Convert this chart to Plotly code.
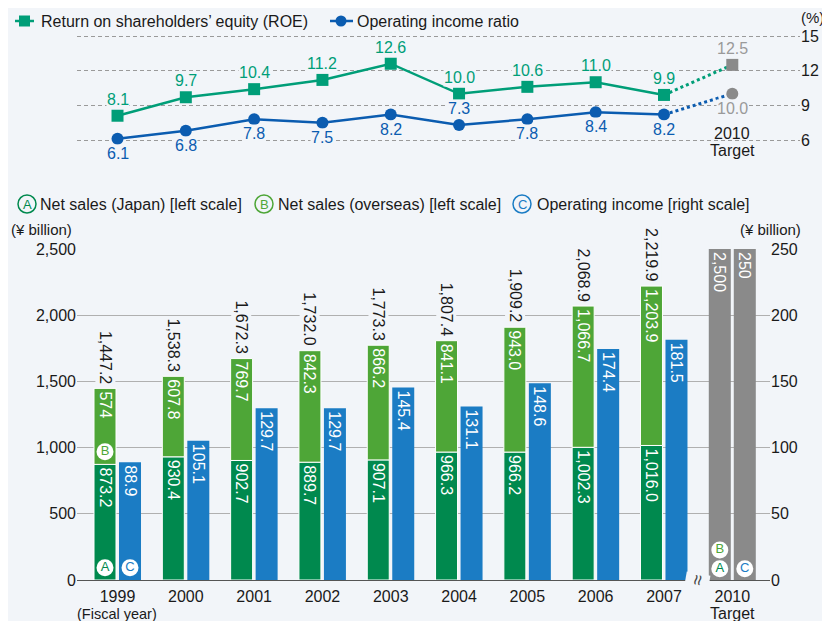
import plotly.graph_objects as go

# ---------------- data ----------------
years = ["1999", "2000", "2001", "2002", "2003", "2004", "2005", "2006", "2007"]
target_year = "2010"
roe = [8.1, 9.7, 10.4, 11.2, 12.6, 10.0, 10.6, 11.0, 9.9]
roe_target = 12.5
oi_ratio = [6.1, 6.8, 7.8, 7.5, 8.2, 7.3, 7.8, 8.4, 8.2]
oi_ratio_target = 10.0
sales_japan = [873.2, 930.4, 902.7, 889.7, 907.1, 966.3, 966.2, 1002.3, 1016.0]
sales_overseas = [574, 607.8, 769.7, 842.3, 866.2, 841.1, 943.0, 1066.7, 1203.9]
sales_total = [1447.2, 1538.3, 1672.3, 1732.0, 1773.3, 1807.4, 1909.2, 2068.9, 2219.9]
op_income = [88.9, 105.1, 129.7, 129.7, 145.4, 131.1, 148.6, 174.4, 181.5]
sales_target = 2500
op_income_target = 250
left_ticks = [0, 500, 1000, 1500, 2000, 2500]
right_ticks = [0, 50, 100, 150, 200, 250]
pct_ticks = [6, 9, 12, 15]

# ---------------- style ----------------
SHIFT = 8            # page body margin offset
W, H = 830 - SHIFT, 621 - SHIFT
BG = "#f2f5f9"
FONT = "Liberation Sans, Arial, Helvetica, sans-serif"
C_JP = "#00894e"
C_OV = "#4ea637"
C_OI = "#1b7cc4"
C_GRAY = "#8a8a8a"
C_ROE = "#009e78"
C_OIR = "#0b5cb0"
C_TXT = "#1a1a1a"


def fmt(v):
    return f"{v:,}" if isinstance(v, int) else f"{v:,.1f}"


def px(x):
    return (x - SHIFT) / W


def py(y):
    return 1 - (y - SHIFT) / H


xs = list(range(len(years)))
xt = len(years)  # target position
BW = 0.322
OFF_L = -0.344
OFF_R = 0.022
CL = OFF_L + BW / 2
CR = OFF_R + BW / 2

fig = go.Figure()

# ---------------- bars ----------------
bar_text = dict(textposition="inside", insidetextanchor="end", textangle=90,
                constraintext="none", textfont=dict(color="white", size=16, family=FONT),
                hoverinfo="skip", showlegend=False)

fig.add_trace(go.Bar(x=xs, y=sales_japan, offset=OFF_L, width=BW,
                     marker=dict(color=C_JP, line=dict(color="white", width=1)),
                     text=[fmt(v) for v in sales_japan], xaxis="x", yaxis="y", **bar_text))
fig.add_trace(go.Bar(x=xs, y=sales_overseas, base=sales_japan, offset=OFF_L, width=BW,
                     marker=dict(color=C_OV, line=dict(color="white", width=1)),
                     text=[fmt(v) for v in sales_overseas], xaxis="x", yaxis="y", **bar_text))
fig.add_trace(go.Bar(x=[xt], y=[sales_target], offset=OFF_L, width=BW,
                     marker=dict(color=C_GRAY, line=dict(width=0)),
                     text=[fmt(sales_target)], xaxis="x", yaxis="y", **bar_text))
fig.add_trace(go.Bar(x=xs, y=op_income, offset=OFF_R, width=BW,
                     marker=dict(color=C_OI, line=dict(width=0)),
                     text=[fmt(v) for v in op_income], xaxis="x", yaxis="y2", **bar_text))
fig.add_trace(go.Bar(x=[xt], y=[op_income_target], offset=OFF_R, width=BW,
                     marker=dict(color=C_GRAY, line=dict(width=0)),
                     text=[fmt(op_income_target)], xaxis="x", yaxis="y2", **bar_text))

# circled letters inside bars
fig.add_trace(go.Scatter(
    x=[xs[0] + CL, xs[0] + CL, xt + CL, xt + CL],
    y=[92, sales_japan[0] + 95, 85, 227],
    mode="markers+text", text=["A", "B", "A", "B"], textposition="middle center",
    marker=dict(symbol="circle", size=17, color="white"),
    textfont=dict(size=13, family=FONT, color=[C_JP, C_OV, C_JP, C_OV]),
    xaxis="x", yaxis="y", showlegend=False, hoverinfo="skip"))
fig.add_trace(go.Scatter(
    x=[xs[0] + CR, xt + CR], y=[9.2, 8.5],
    mode="markers+text", text=["C", "C"], textposition="middle center",
    marker=dict(symbol="circle", size=17, color="white"),
    textfont=dict(size=13, family=FONT, color=C_OI),
    xaxis="x", yaxis="y2", showlegend=False, hoverinfo="skip"))

# ---------------- top lines ----------------
line_common = dict(xaxis="x2", yaxis="y3", showlegend=False, hoverinfo="skip", cliponaxis=False)
fig.add_trace(go.Scatter(x=[xs[-1], xt], y=[roe[-1], roe_target], mode="lines",
                         line=dict(color=C_ROE, width=3, dash="dot"), **line_common))
fig.add_trace(go.Scatter(x=[xs[-1], xt], y=[oi_ratio[-1], oi_ratio_target], mode="lines",
                         line=dict(color=C_OIR, width=3, dash="dot"), **line_common))
fig.add_trace(go.Scatter(x=xs, y=roe, mode="lines+markers",
                         line=dict(color=C_ROE, width=2.5),
                         marker=dict(symbol="square", size=12, color=C_ROE), **line_common))
fig.add_trace(go.Scatter(x=xs, y=oi_ratio, mode="lines+markers",
                         line=dict(color=C_OIR, width=2.5),
                         marker=dict(symbol="circle", size=12, color=C_OIR), **line_common))
fig.add_trace(go.Scatter(x=[xt], y=[roe_target], mode="markers",
                         marker=dict(symbol="square", size=12, color=C_GRAY), **line_common))
fig.add_trace(go.Scatter(x=[xt], y=[oi_ratio_target], mode="markers",
                         marker=dict(symbol="circle", size=12, color=C_GRAY), **line_common))

# ---------------- annotations ----------------
ann = []
for i, t in enumerate(sales_total):
    ann.append(dict(x=xs[i] + CL, y=t, xref="x", yref="y", text=fmt(t), textangle=90,
                    showarrow=False, yanchor="bottom", xanchor="center", yshift=3,
                    bgcolor=BG, borderpad=1, font=dict(size=16, color=C_TXT, family=FONT)))


def point_label(x, y, v, color, above):
    ann.append(dict(x=x, y=y, xref="x2", yref="y3", text=f"{v:.1f}", showarrow=False,
                    xanchor="center", yanchor="bottom" if above else "top",
                    yshift=7 if above else -5, bgcolor=BG, borderpad=0,
                    font=dict(size=16, color=color, family=FONT)))


for i, v in enumerate(roe):
    point_label(xs[i], v, v, C_ROE, True)
for i, v in enumerate(oi_ratio):
    point_label(xs[i], v, v, C_OIR, i == 5)
point_label(xt, roe_target, roe_target, "#9a9a9a", True)
point_label(xt, oi_ratio_target, oi_ratio_target, "#9a9a9a", False)


def txt(x, y, s, size=16, color=C_TXT, xanchor="left", **kw):
    ann.append(dict(x=px(x), y=py(y), xref="paper", yref="paper", text=s, showarrow=False,
                    xanchor=xanchor, yanchor="middle", font=dict(size=size, color=color, family=FONT), **kw))


txt(39, 21, "Return on shareholders’ equity (ROE)")
txt(355, 21, "Operating income ratio")
txt(38, 204, "Net sales (Japan) [left scale]")
txt(276, 204, "Net sales (overseas) [left scale]")
txt(535, 204, "Operating income [right scale]")
txt(812, 18, "(%)", size=15, xanchor="center")
txt(74, 229, "(¥ billion)", size=15, xanchor="right")
txt(803, 229, "(¥ billion)", size=15, xanchor="right")
txt(732, 134, target_year, xanchor="center")
txt(732, 150, "Target", xanchor="center")
txt(117, 613.5, "(Fiscal year)", size=14.5, xanchor="center")
txt(732, 613, "Target", xanchor="center")
txt(697, 580, "≈", size=19, color="#444", xanchor="center", textangle=-80, bgcolor=BG)
# legend letters
for cx, letter, col in [(27, "A", C_JP), (264, "B", C_OV), (522, "C", C_OI)]:
    txt(cx, 204.5, letter, size=13, color=col, xanchor="center")

shapes = []
for cx, col in [(27, C_JP), (264, C_OV), (522, C_OI)]:
    r = 9
    shapes.append(dict(type="circle", xref="paper", yref="paper",
                       x0=px(cx - r), x1=px(cx + r), y0=py(204 + r), y1=py(204 - r),
                       line=dict(color=col, width=1.5)))
# top legend symbols
shapes.append(dict(type="line", xref="paper", yref="paper", x0=px(15), x1=px(34), y0=py(21), y1=py(21),
                   line=dict(color=C_ROE, width=2.5)))
shapes.append(dict(type="rect", xref="paper", yref="paper", x0=px(19), x1=px(30), y0=py(26.5), y1=py(15.5),
                   fillcolor=C_ROE, line=dict(width=0)))
shapes.append(dict(type="line", xref="paper", yref="paper", x0=px(330), x1=px(353), y0=py(21), y1=py(21),
                   line=dict(color=C_OIR, width=2.5)))
shapes.append(dict(type="circle", xref="paper", yref="paper", x0=px(335.5), x1=px(346.5), y0=py(26.5), y1=py(15.5),
                   fillcolor=C_OIR, line=dict(width=0)))

xr0 = -0.593
xunit = 68.31
fig.update_layout(
    width=W, height=H, autosize=False,
    margin=dict(l=0, r=0, t=0, b=0, pad=0, autoexpand=False),
    paper_bgcolor=BG, plot_bgcolor=BG,
    font=dict(family=FONT, size=16, color=C_TXT),
    barmode="overlay", showlegend=False,
    xaxis=dict(domain=[px(77), px(770)], range=[xr0, (770 - 117.5) / xunit],
               tickvals=xs + [xt], ticktext=years + [target_year], ticks="",
               showline=True, linecolor="#555555", linewidth=1.2, showgrid=False, zeroline=False,
               tickfont=dict(size=16, color=C_TXT), ticklabelstandoff=2, anchor="y",
               automargin=False),
    yaxis=dict(domain=[py(580), py(249)], range=[0, 2500], tickvals=left_ticks, tickformat=",",
               showgrid=True, gridcolor="#b0b0b0", gridwidth=1, zeroline=False, showline=False,
               ticks="", tickfont=dict(size=16, color=C_TXT), anchor="x", automargin=False),
    yaxis2=dict(domain=[py(580), py(249)], range=[0, 250], tickvals=right_ticks, overlaying="y",
                side="right", showgrid=False, zeroline=False, showline=False, ticks="",
                tickfont=dict(size=16, color=C_TXT), anchor="x", automargin=False),
    xaxis2=dict(domain=[px(77), px(800)], range=[xr0, (800 - 117.5) / xunit], visible=False,
                anchor="y3", showgrid=False, zeroline=False, automargin=False),
    yaxis3=dict(domain=[py(151.56), py(24.44)], range=[5, 16], tickvals=pct_ticks, side="right",
                showgrid=True, gridcolor="#9a9a9a", griddash="4px,3px", gridwidth=1, zeroline=False,
                showline=False, ticks="", tickfont=dict(size=16, color=C_TXT), anchor="x2",
                automargin=False),
    annotations=ann, shapes=shapes,
)

fig.write_html("out.html")
